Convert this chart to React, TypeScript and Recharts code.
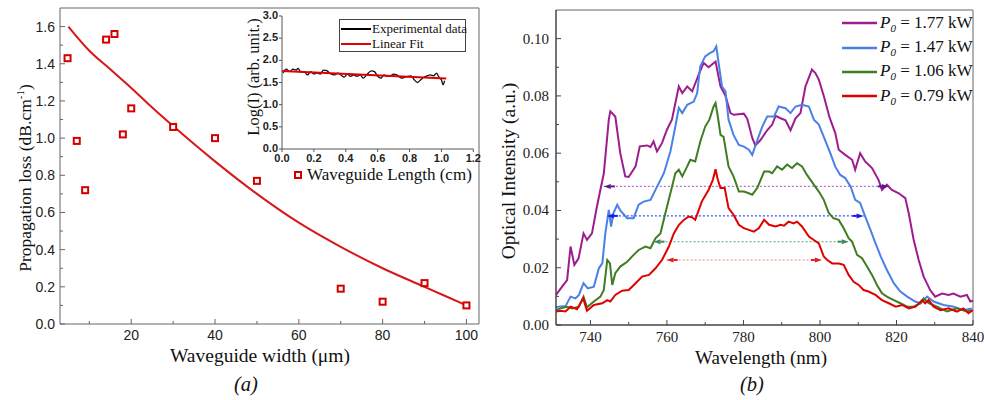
import React from 'react';
import { ComposedChart, LineChart, Line, Scatter, XAxis, YAxis, ReferenceLine, Legend } from 'recharts';

// ---------- Panel (a): propagation loss vs waveguide width ----------
const widthUm = [4.8, 7, 9, 14, 16, 18, 20, 30, 40, 50, 70, 80, 90, 100];
const lossDb = [1.43, 0.985, 0.72, 1.53, 1.56, 1.02, 1.16, 1.06, 1.0, 0.77, 0.19, 0.12, 0.22, 0.1];
const fitWidth = [5, 10, 15, 20, 25, 30, 40, 50, 60, 70, 80, 90, 100];
const fitLoss = [1.6, 1.47, 1.37, 1.27, 1.165, 1.065, 0.875, 0.7, 0.545, 0.415, 0.3, 0.2, 0.1];
const aXTicks = [10, 20, 30, 40, 50, 60, 70, 80, 90, 100];
const aXMajor = [20, 40, 60, 80, 100];
const aYTicks = [0, 0.1, 0.2, 0.3, 0.4, 0.5, 0.6, 0.7, 0.8, 0.9, 1.0, 1.1, 1.2, 1.3, 1.4, 1.5, 1.6];
const aYMajor = [0, 0.2, 0.4, 0.6, 0.8, 1.0, 1.2, 1.4, 1.6];

// ---------- Inset: Log(I) vs waveguide length ----------
const insetLen = [0.006, 0.027, 0.048, 0.069, 0.09, 0.1, 0.12, 0.14, 0.16, 0.18, 0.2, 0.22, 0.24, 0.26, 0.28, 0.3, 0.33, 0.35, 0.37, 0.39, 0.41, 0.43, 0.45, 0.47, 0.49, 0.51, 0.53, 0.56, 0.58, 0.6, 0.62, 0.64, 0.66, 0.68, 0.7, 0.72, 0.75, 0.77, 0.79, 0.81, 0.83, 0.85, 0.87, 0.89, 0.91, 0.93, 0.95, 0.97, 0.98, 0.99, 1.0, 1.01, 1.02];
const insetLog = [1.71, 1.8, 1.745, 1.8, 1.78, 1.82, 1.73, 1.745, 1.67, 1.745, 1.69, 1.72, 1.69, 1.78, 1.77, 1.71, 1.67, 1.71, 1.67, 1.62, 1.69, 1.64, 1.67, 1.64, 1.67, 1.6, 1.67, 1.76, 1.745, 1.64, 1.6, 1.67, 1.64, 1.65, 1.69, 1.67, 1.6, 1.62, 1.64, 1.65, 1.56, 1.5, 1.56, 1.62, 1.65, 1.67, 1.65, 1.71, 1.65, 1.6, 1.56, 1.45, 1.54];
const insetFitLen = [0, 1.03];
const insetFitLog = [1.76, 1.59];
const insetXTicks = [0, 0.2, 0.4, 0.6, 0.8, 1.0, 1.2];
const insetYTicks = [0, 0.5, 1.0, 1.5, 2.0, 2.5, 3.0];

// ---------- Panel (b): spectra ----------
const spec177: [number, number][] = [
  [731, 0.0105], [732.6, 0.0134], [733.9, 0.0157], [734.8, 0.0274], [735.8, 0.021], [736.9, 0.0233], [738.2, 0.032], [739.1, 0.0297], [740.4, 0.032], [741.7, 0.0414], [743.5, 0.053], [744.8, 0.0717], [745.2, 0.0746], [746.5, 0.0728], [747.8, 0.06], [749.1, 0.0519], [750, 0.0517], [751.8, 0.0554], [752.9, 0.0624], [754.8, 0.0627], [755.7, 0.0622], [756.5, 0.0641], [757.4, 0.0606], [758.7, 0.0635], [760, 0.0682], [761.3, 0.0717], [763.1, 0.0833], [764, 0.081], [765.3, 0.0833], [766.6, 0.0816], [768.3, 0.0874], [769.6, 0.0915], [770.9, 0.09], [772.7, 0.092], [774, 0.0833], [775.3, 0.08], [776.6, 0.074], [777.5, 0.0734], [780.1, 0.0738], [781, 0.072], [782.3, 0.0653], [783.1, 0.0627], [784.4, 0.0645], [786.2, 0.068], [787.5, 0.07], [788.4, 0.073], [789.7, 0.0722], [791, 0.0715], [792.3, 0.068], [793.6, 0.0722], [794.9, 0.074], [796.2, 0.0833], [797.9, 0.0892], [798.8, 0.088], [799.7, 0.0857], [801, 0.08], [802.5, 0.0725], [804, 0.067], [804.9, 0.0612], [806.6, 0.0594], [808.4, 0.0577], [809.2, 0.0542], [810.5, 0.06], [811.8, 0.0571], [813.6, 0.0548], [815.3, 0.0507], [816.2, 0.0472], [817.5, 0.049], [818.8, 0.0472], [820.6, 0.046], [822.3, 0.0443], [823.2, 0.039], [824.5, 0.0297], [825.8, 0.0227], [827.1, 0.0169], [828.8, 0.0122], [830.1, 0.0099], [831.9, 0.011], [833.6, 0.0105], [834.9, 0.011], [836.7, 0.0099], [838.4, 0.0105], [839.3, 0.0082], [840, 0.0085],
];
const spec147: [number, number][] = [
  [731, 0.0062], [732.2, 0.0065], [733.5, 0.0066], [734.8, 0.0099], [736.1, 0.0093], [737, 0.0105], [738.2, 0.0146], [739.3, 0.0128], [740.9, 0.0134], [742.2, 0.0198], [743.1, 0.0215], [743.9, 0.032], [744.8, 0.0402], [745.4, 0.0344], [746, 0.039], [747, 0.042], [747.8, 0.04], [749.6, 0.0373], [751.3, 0.0373], [752.6, 0.042], [753.9, 0.0431], [755.7, 0.0437], [757, 0.0472], [759.2, 0.053], [760.9, 0.0606], [762.2, 0.0693], [763.1, 0.0758], [764, 0.074], [765.3, 0.0769], [767, 0.078], [767.9, 0.081], [768.7, 0.0903], [770, 0.0938], [771.3, 0.095], [772.2, 0.0956], [772.9, 0.0973], [773.5, 0.0915], [774.4, 0.0833], [775.3, 0.0816], [776.1, 0.0717], [777.4, 0.0664], [778.8, 0.0629], [780.1, 0.0623], [781.4, 0.0612], [782.3, 0.0594], [783.6, 0.0645], [784.9, 0.0692], [786.2, 0.0728], [788, 0.0728], [789.2, 0.0763], [791, 0.0757], [792.3, 0.074], [793.6, 0.0763], [795.3, 0.0769], [797.1, 0.0763], [798.4, 0.0717], [799.7, 0.07], [801, 0.0657], [802.7, 0.06], [804, 0.0553], [805.3, 0.0524], [806.6, 0.0513], [808, 0.0484], [809.2, 0.0437], [810.5, 0.0426], [811.8, 0.0379], [813.2, 0.0332], [814.5, 0.0286], [815.9, 0.0239], [817.5, 0.0192], [819.3, 0.0146], [821, 0.0117], [822.8, 0.0099], [824.9, 0.0082], [826.3, 0.0076], [828, 0.0099], [829.7, 0.0082], [832.3, 0.007], [835, 0.0064], [837.5, 0.0052], [839.7, 0.0058],
];
const spec106: [number, number][] = [
  [731, 0.0052], [732.2, 0.0058], [733.9, 0.0064], [735.2, 0.0058], [737, 0.0064], [738.2, 0.0099], [739.1, 0.0062], [740.9, 0.0082], [742.6, 0.0099], [743.5, 0.0122], [744.4, 0.0227], [745.1, 0.0215], [745.7, 0.014], [746.5, 0.0181], [747.8, 0.0204], [749.6, 0.0221], [751.3, 0.0245], [752.6, 0.0262], [754.4, 0.0274], [755.7, 0.0268], [757, 0.0303], [758.3, 0.032], [759.6, 0.0391], [760.9, 0.046], [762.2, 0.053], [763.1, 0.0542], [764, 0.0519], [765.3, 0.0554], [766.1, 0.0577], [767.4, 0.0571], [768.7, 0.064], [770, 0.0693], [771.1, 0.0717], [772.2, 0.0763], [772.7, 0.0775], [773.3, 0.0728], [774, 0.0664], [774.8, 0.0657], [776.1, 0.0554], [777.4, 0.0519], [778.8, 0.0466], [780.1, 0.0466], [781.4, 0.046], [782.3, 0.0455], [783.6, 0.0478], [785.4, 0.0536], [786.7, 0.0536], [787.5, 0.053], [788.8, 0.0554], [790.1, 0.0542], [791.4, 0.056], [792.7, 0.0548], [794, 0.0565], [795.3, 0.0554], [796.6, 0.0524], [798.4, 0.049], [799.7, 0.0466], [801, 0.0437], [802.3, 0.0391], [803.5, 0.0373], [804.9, 0.0367], [806.2, 0.0338], [807.5, 0.0303], [808.4, 0.0291], [809.7, 0.0245], [811, 0.0233], [812.3, 0.0204], [813.6, 0.0175], [814.9, 0.014], [816.2, 0.0111], [817.5, 0.0099], [819.3, 0.0087], [821, 0.0076], [822.8, 0.0064], [824.5, 0.0064], [826.3, 0.0076], [827.1, 0.0093], [828.4, 0.0076], [830.6, 0.0064], [833.2, 0.0047], [835.8, 0.0058], [838.4, 0.0047], [839.7, 0.0052],
];
const spec079: [number, number][] = [
  [731, 0.0047], [732.2, 0.005], [733.5, 0.0047], [734.8, 0.0064], [736.5, 0.0055], [738.1, 0.0093], [739.1, 0.005], [740.9, 0.007], [743.1, 0.0076], [744.4, 0.0087], [745.2, 0.0082], [746.5, 0.0105], [748.3, 0.012], [750, 0.0122], [751.8, 0.0146], [753.5, 0.0169], [755.3, 0.0175], [757, 0.0198], [758.7, 0.0227], [760.5, 0.0274], [761.8, 0.032], [763.1, 0.0349], [764.4, 0.0367], [765.7, 0.0379], [766.6, 0.0376], [767.4, 0.0367], [769.1, 0.0431], [770.9, 0.0472], [772, 0.0507], [772.7, 0.0544], [773.3, 0.0507], [774, 0.0478], [775.1, 0.0478], [776.1, 0.0408], [777.4, 0.0385], [778.8, 0.035], [780.1, 0.0338], [781.4, 0.0332], [782.7, 0.0326], [784, 0.0338], [785.4, 0.0367], [786.7, 0.035], [788.4, 0.0344], [789.7, 0.035], [790.6, 0.0347], [791.8, 0.0361], [793.1, 0.0355], [794, 0.0361], [795.3, 0.0344], [797.1, 0.0309], [798.4, 0.0297], [799.7, 0.0285], [801, 0.0239], [801.9, 0.0227], [803.2, 0.0215], [804.9, 0.0215], [806.2, 0.021], [807.5, 0.0175], [808.8, 0.0151], [810.1, 0.014], [811.4, 0.0122], [812.7, 0.0117], [814.5, 0.0105], [816.2, 0.0087], [818, 0.0076], [819.8, 0.0064], [821.5, 0.007], [823.2, 0.0058], [825, 0.0064], [826.7, 0.0087], [827.5, 0.0076], [828.4, 0.0087], [829.7, 0.0064], [831.5, 0.0052], [833.6, 0.0058], [835.8, 0.0047], [837.5, 0.0058], [838.8, 0.0041], [840, 0.0052],
];
const seriesNames = ['1.77', '1.47', '1.06', '0.79'];
const seriesColors = ['#9e1d8e', '#4a80e8', '#3f7d22', '#e00000'];
// FWHM markers
const fwhmStart = [743.5, 744.3, 756.5, 759.9];
const fwhmEnd = [818, 811.4, 807.5, 800.5];
const fwhmLevel = [0.0484, 0.0381, 0.0291, 0.0227];
const fwhmLineColors = ['#b86fc8', '#3a4cff', '#7fb59a', '#ff7a7a'];
const fwhmHeadColors = ['#5a1a8a', '#1a1ae0', '#3d8a5e', '#e02020'];
const bXTicks = [740, 750, 760, 770, 780, 790, 800, 810, 820, 830, 840];
const bXMajor = [740, 760, 780, 800, 820, 840];
const bYTicks = [0, 0.01, 0.02, 0.03, 0.04, 0.05, 0.06, 0.07, 0.08, 0.09, 0.1];
const bYMajor = [0, 0.02, 0.04, 0.06, 0.08, 0.1];

const SERIF = '"Liberation Serif", "Times New Roman", serif';
const SANS = '"Liberation Sans", Arial, sans-serif';

const isIn = (arr: number[], v: number) => arr.some((m) => Math.abs(m - v) < 1e-9);

const makeLeftTick = (majors: number[], fmt: (v: number) => string, o: { font: string; size: number; weight?: string; major: number; minor: number; gap: number; color: string; dy: number }) =>
  (props: any) => {
    const { x, y, payload } = props;
    const v = payload.value;
    const maj = isIn(majors, v);
    return (
      <g>
        <line x1={x} y1={y} x2={x + (maj ? o.major : o.minor)} y2={y} stroke={o.color} strokeWidth={1} />
        {maj && (
          <text x={x - o.gap} y={y + o.dy} textAnchor="end" fontFamily={o.font} fontSize={o.size} fontWeight={o.weight || 'normal'} fill="#222">
            {fmt(v)}
          </text>
        )}
      </g>
    );
  };

const makeBottomTick = (majors: number[], fmt: (v: number) => string, o: { font: string; size: number; weight?: string; major: number; minor: number; gap: number; color: string }) =>
  (props: any) => {
    const { x, y, payload } = props;
    const v = payload.value;
    const maj = isIn(majors, v);
    return (
      <g>
        <line x1={x} y1={y} x2={x} y2={y - (maj ? o.major : o.minor)} stroke={o.color} strokeWidth={1} />
        {maj && (
          <text x={x} y={y + o.gap} textAnchor="middle" fontFamily={o.font} fontSize={o.size} fontWeight={o.weight || 'normal'} fill="#222">
            {fmt(v)}
          </text>
        )}
      </g>
    );
  };

const SquareMarker = (props: any) => {
  const { cx, cy } = props;
  if (cx == null || cy == null) return null;
  return <rect x={cx - 3} y={cy - 3} width={6} height={6} fill="#fff" stroke="#d40000" strokeWidth={2} />;
};

const makeArrowDot = (color: string) => (props: any) => {
  const { cx, cy, index } = props;
  if (cx == null || cy == null) return null;
  const d = index === 0 ? -1 : 1;
  const pts = `${cx},${cy} ${cx - d * 7},${cy - 2.5} ${cx - d * 7},${cy + 2.5}`;
  return (
    <g key={`a${index}`}>
      <polygon points={pts} fill={color} />
      <line x1={cx - d * 7} y1={cy} x2={cx - d * 11} y2={cy} stroke={color} strokeWidth={2} />
    </g>
  );
};

const fitData = fitWidth.map((x, i) => ({ x, y: fitLoss[i] }));
const scatterData = widthUm.map((x, i) => ({ x, y: lossDb[i] }));
const insetData = insetLen.map((x, i) => ({ x, y: insetLog[i] }));
const insetFitData = insetFitLen.map((x, i) => ({ x, y: insetFitLog[i] }));
const spectra = [spec177, spec147, spec106, spec079].map((s) => s.map(([x, y]) => ({ x, y })));
const fwhmData = fwhmStart.map((s, i) => [
  { x: s, y: fwhmLevel[i] },
  { x: fwhmEnd[i], y: fwhmLevel[i] },
]);

const PanelALegend = () => (
  <div style={{ display: 'flex', alignItems: 'center', fontFamily: SERIF, fontSize: 17, color: '#111', whiteSpace: 'nowrap' }}>
    <svg width={12} height={12} style={{ marginRight: 3 }}>
      <rect x={3} y={3} width={6} height={6} fill="#fff" stroke="#d40000" strokeWidth={2} />
    </svg>
    Waveguide Length (cm)
  </div>
);

const InsetLegend = () => (
  <div style={{ fontFamily: SERIF, fontSize: 13, color: '#111', lineHeight: '15px', padding: '1px 0 0 1px', whiteSpace: 'nowrap' }}>
    {[
      ['Experimental data', '#000'],
      ['Linear Fit', '#e00000'],
    ].map(([t, c]) => (
      <div key={t} style={{ display: 'flex', alignItems: 'center', height: 15, whiteSpace: 'nowrap' }}>
        <svg width={30} height={6} style={{ marginRight: 1, flexShrink: 0 }}>
          <line x1={0} y1={3} x2={30} y2={3} stroke={c} strokeWidth={2} />
        </svg>
        <span style={{ whiteSpace: 'nowrap' }}>{t}</span>
      </div>
    ))}
  </div>
);

const SpectraLegend = () => (
  <div style={{ fontFamily: SERIF, fontSize: 17, color: '#111' }}>
    {seriesNames.map((n, i) => (
      <div key={n} style={{ display: 'flex', alignItems: 'center', height: 24.4, whiteSpace: 'nowrap' }}>
        <svg width={35} height={6} style={{ marginRight: 3 }}>
          <line x1={0} y1={3} x2={35} y2={3} stroke={seriesColors[i]} strokeWidth={2.5} />
        </svg>
        <span>
          <i>P</i>
          <sub style={{ fontSize: 11, fontStyle: 'italic', verticalAlign: -4 }}>0</sub> = {n} kW
        </span>
      </div>
    ))}
  </div>
);

export default function App() {
  return (
    <div style={{ position: 'absolute', left: 0, top: 0, width: 984, height: 400, background: '#fff', overflow: 'hidden' }}>
      {/* Panel (a) */}
      <div style={{ position: 'absolute', left: 0, top: 0 }}>
        <ComposedChart width={490} height={400} margin={{ top: 8, right: 11, bottom: 36, left: 0 }}>
          <XAxis
            dataKey="x"
            type="number"
            domain={[3, 103]}
            allowDataOverflow
            ticks={aXTicks}
            interval={0}
            tickSize={0}
            tickMargin={0}
            height={40}
            stroke="#666"
            tick={makeBottomTick(aXMajor, (v) => String(v), { font: SANS, size: 14, major: 5, minor: 3, gap: 16, color: '#666' })}
          />
          <YAxis
            type="number"
            domain={[0, 1.7]}
            allowDataOverflow
            ticks={aYTicks}
            interval={0}
            tickSize={0}
            tickMargin={0}
            width={60}
            stroke="#666"
            tick={makeLeftTick(aYMajor, (v) => v.toFixed(1), { font: SANS, size: 14, major: 5, minor: 3, gap: 5, color: '#666', dy: 5 })}
          />
          <ReferenceLine y={1.7} stroke="#999" strokeWidth={1.5} />
          <ReferenceLine x={103} stroke="#999" strokeWidth={1.5} />
          <Line data={fitData} dataKey="y" type="monotone" stroke="#d81818" strokeWidth={2} dot={false} isAnimationActive={false} />
          <Scatter data={scatterData} dataKey="y" shape={SquareMarker} isAnimationActive={false} />
          <Legend
            layout="horizontal"
            verticalAlign="middle"
            align="center"
            content={() => <PanelALegend />}
            wrapperStyle={{ left: 292, top: 165, width: 190, height: 20 }}
          />
        </ComposedChart>
      </div>

      {/* Inset */}
      <div style={{ position: 'absolute', left: 232, top: 6 }}>
        <LineChart width={250} height={165} margin={{ top: 10, right: 8.7, bottom: 0, left: 0 }}>
          <XAxis
            dataKey="x"
            type="number"
            domain={[0, 1.2]}
            allowDataOverflow
            ticks={insetXTicks}
            interval={0}
            tickSize={0}
            tickMargin={0}
            height={22}
            stroke="#555"
            tick={makeBottomTick(insetXTicks, (v) => v.toFixed(1), { font: SANS, size: 11, weight: 'bold', major: -3, minor: -2, gap: 13, color: '#555' })}
          />
          <YAxis
            type="number"
            domain={[0, 3]}
            allowDataOverflow
            ticks={insetYTicks}
            interval={0}
            tickSize={0}
            tickMargin={0}
            width={50}
            stroke="#555"
            tick={makeLeftTick(insetYTicks, (v) => v.toFixed(1), { font: SANS, size: 11, weight: 'bold', major: -3, minor: -2, gap: 4, color: '#555', dy: 3 })}
          />
          <Line data={insetData} dataKey="y" type="monotone" stroke="#111" strokeWidth={1.3} dot={false} isAnimationActive={false} />
          <Line data={insetFitData} dataKey="y" type="linear" stroke="#e00000" strokeWidth={2} dot={false} isAnimationActive={false} />
          <Legend
            layout="horizontal"
            verticalAlign="middle"
            align="center"
            content={() => <InsetLegend />}
            wrapperStyle={{ left: 107, top: 13, width: 127, height: 33, border: '1px solid #444', boxSizing: 'border-box', background: '#fff', overflow: 'visible' }}
          />
        </LineChart>
      </div>

      {/* Panel (b) */}
      <div style={{ position: 'absolute', left: 490, top: 0 }}>
        <LineChart width={494} height={400} margin={{ top: 10, right: 11, bottom: 45, left: 0 }}>
          <XAxis
            dataKey="x"
            type="number"
            domain={[731, 840]}
            allowDataOverflow
            ticks={bXTicks}
            interval={0}
            tickSize={0}
            tickMargin={0}
            height={30}
            stroke="#444"
            strokeWidth={1.5}
            tick={makeBottomTick(bXMajor, (v) => String(v), { font: SERIF, size: 15, major: 5, minor: 3, gap: 17, color: '#444' })}
          />
          <YAxis
            type="number"
            domain={[0, 0.11]}
            allowDataOverflow
            ticks={bYTicks}
            interval={0}
            tickSize={0}
            tickMargin={0}
            width={66}
            stroke="#444"
            strokeWidth={1.5}
            tick={makeLeftTick(bYMajor, (v) => v.toFixed(2), { font: SERIF, size: 15, major: 5, minor: 3, gap: 7, color: '#444', dy: 5 })}
          />
          <ReferenceLine y={0.11} stroke="#999" strokeWidth={1.5} />
          <ReferenceLine x={840} stroke="#999" strokeWidth={1.5} />
          {fwhmData.map((d, i) => (
            <Line
              key={`f${i}`}
              data={d}
              dataKey="y"
              type="linear"
              stroke={fwhmLineColors[i]}
              strokeWidth={1.2}
              strokeDasharray="2 2"
              dot={makeArrowDot(fwhmHeadColors[i])}
              isAnimationActive={false}
            />
          ))}
          {spectra.map((d, i) => (
            <Line
              key={`s${i}`}
              data={d}
              dataKey="y"
              type="linear"
              stroke={seriesColors[i]}
              strokeWidth={2}
              dot={false}
              isAnimationActive={false}
            />
          ))}
          <Legend
            layout="horizontal"
            verticalAlign="middle"
            align="center"
            content={() => <SpectraLegend />}
            wrapperStyle={{ left: 352, top: 11, width: 135, height: 98 }}
          />
        </LineChart>
      </div>

      {/* Titles */}
      <svg width={984} height={400} style={{ position: 'absolute', left: 0, top: 0, pointerEvents: 'none' }}>
        <text x={31} y={178} transform="rotate(-90 31 178)" textAnchor="middle" fontFamily={SERIF} fontSize={17.5} fill="#111">
          Propagation loss (dB.cm
          <tspan dy={-7} fontSize={11}>-1</tspan>
          <tspan dy={7}>)</tspan>
        </text>
        <text x={260} y={362} textAnchor="middle" fontFamily={SERIF} fontSize={19.5} fill="#111">
          Waveguide width (μm)
        </text>
        <text x={246} y={391} textAnchor="middle" fontFamily={SERIF} fontSize={20.5} fontStyle="italic" fill="#111">
          (a)
        </text>
        <text x={259} y={77} transform="rotate(-90 259 77)" textAnchor="middle" fontFamily={SERIF} fontSize={16.5} fill="#111">
          Log(I) (arb. unit.)
        </text>
        <text x={515} y={171} transform="rotate(-90 515 171)" textAnchor="middle" fontFamily={SERIF} fontSize={19.5} fill="#111">
          Optical Intensity (a.u.)
        </text>
        <text x={761} y={364} textAnchor="middle" fontFamily={SERIF} fontSize={19} fill="#111">
          Wavelength (nm)
        </text>
        <text x={752} y={391} textAnchor="middle" fontFamily={SERIF} fontSize={20.5} fontStyle="italic" fill="#111">
          (b)
        </text>
      </svg>
    </div>
  );
}
